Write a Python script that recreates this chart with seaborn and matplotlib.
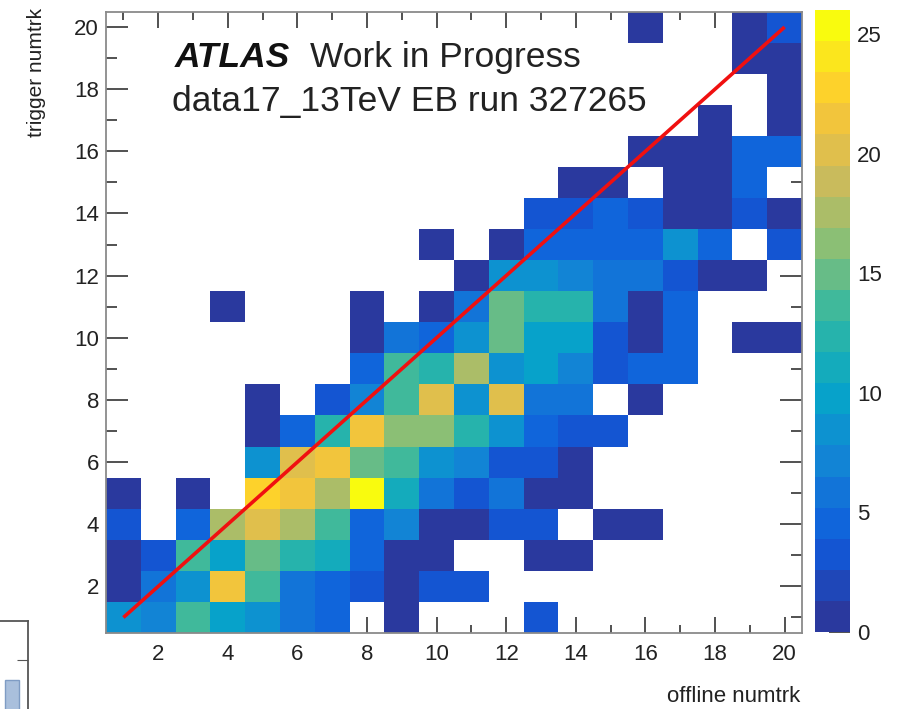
import numpy as np
import pandas as pd
import matplotlib
matplotlib.use("Agg")
import matplotlib.pyplot as plt
import seaborn as sns
from matplotlib.colors import LinearSegmentedColormap, ListedColormap

# ---------------- data ----------------
offline_numtrk = list(range(1, 21))   # x bins
trigger_numtrk = list(range(1, 21))   # y bins

# counts, one list per trigger-numtrk row (1 .. 20), columns offline numtrk 1 .. 20
trig_01 = [9, 7, 14, 10, 9, 6, 5, 0, 1, 0, 0, 0, 3, 0, 0, 0, 0, 0, 0, 0]
trig_02 = [1, 6, 9, 22, 13, 6, 5, 3, 1, 3, 3, 0, 0, 0, 0, 0, 0, 0, 0, 0]
trig_03 = [1, 3, 13, 10, 15, 12, 11, 5, 1, 1, 0, 0, 1, 1, 0, 0, 0, 0, 0, 0]
trig_04 = [3, 0, 4, 17, 20, 18, 14, 5, 7, 1, 1, 3, 3, 0, 1, 1, 0, 0, 0, 0]
trig_05 = [1, 0, 1, 0, 23, 21, 18, 26, 11, 6, 3, 6, 1, 1, 0, 0, 0, 0, 0, 0]
trig_06 = [0, 0, 0, 0, 9, 20, 21, 15, 13, 9, 7, 3, 3, 1, 0, 0, 0, 0, 0, 0]
trig_07 = [0, 0, 0, 0, 1, 4, 12, 22, 16, 16, 12, 9, 4, 3, 3, 0, 0, 0, 0, 0]
trig_08 = [0, 0, 0, 0, 1, 0, 3, 7, 14, 20, 9, 20, 6, 6, 0, 1, 0, 0, 0, 0]
trig_09 = [0, 0, 0, 0, 0, 0, 0, 5, 14, 12, 18, 8, 10, 7, 3, 5, 5, 0, 0, 0]
trig_10 = [0, 0, 0, 0, 0, 0, 0, 1, 6, 4, 8, 15, 10, 10, 3, 1, 5, 0, 1, 1]
trig_11 = [0, 0, 0, 1, 0, 0, 0, 1, 0, 1, 6, 15, 12, 12, 6, 1, 5, 0, 0, 0]
trig_12 = [0, 0, 0, 0, 0, 0, 0, 0, 0, 0, 1, 8, 8, 7, 6, 6, 3, 1, 1, 0]
trig_13 = [0, 0, 0, 0, 0, 0, 0, 0, 0, 1, 0, 1, 4, 4, 5, 5, 9, 4, 0, 3]
trig_14 = [0, 0, 0, 0, 0, 0, 0, 0, 0, 0, 0, 0, 3, 3, 5, 3, 1, 1, 3, 1]
trig_15 = [0, 0, 0, 0, 0, 0, 0, 0, 0, 0, 0, 0, 0, 1, 1, 0, 1, 1, 4, 0]
trig_16 = [0, 0, 0, 0, 0, 0, 0, 0, 0, 0, 0, 0, 0, 0, 0, 1, 1, 1, 4, 4]
trig_17 = [0, 0, 0, 0, 0, 0, 0, 0, 0, 0, 0, 0, 0, 0, 0, 0, 0, 1, 0, 1]
trig_18 = [0, 0, 0, 0, 0, 0, 0, 0, 0, 0, 0, 0, 0, 0, 0, 0, 0, 0, 0, 1]
trig_19 = [0, 0, 0, 0, 0, 0, 0, 0, 0, 0, 0, 0, 0, 0, 0, 0, 0, 0, 1, 1]
trig_20 = [0, 0, 0, 0, 0, 0, 0, 0, 0, 0, 0, 0, 0, 0, 0, 1, 0, 0, 1, 3]

major_ticks = [2, 4, 6, 8, 10, 12, 14, 16, 18, 20]
minor_ticks = [1, 3, 5, 7, 9, 11, 13, 15, 17, 19]
cbar_ticks = [0, 5, 10, 15, 20, 25]

diag_x = [1, 20]   # red reference line (trigger = offline)
diag_y = [1, 20]

inset_vals = [100]  # fragment of a neighbouring histogram at bottom-left

rows = [trig_01, trig_02, trig_03, trig_04, trig_05, trig_06, trig_07, trig_08, trig_09, trig_10,
        trig_11, trig_12, trig_13, trig_14, trig_15, trig_16, trig_17, trig_18, trig_19, trig_20]
df = pd.DataFrame(rows, index=trigger_numtrk, columns=offline_numtrk)

# ---------------- style ----------------
sns.set_style("white")
plt.rcParams["font.family"] = ["Liberation Sans", "DejaVu Sans"]

# ROOT kBird-like palette (as rendered in the reference), 20 contour bands
stops = [0.0, 0.125, 0.25, 0.375, 0.5, 0.625, 0.75, 0.875, 1.0]
red = [0.165, 0.0592, 0.0780, 0.0232, 0.1802, 0.5301, 0.8186, 0.9956, 0.9764]
green = [0.225, 0.3599, 0.5041, 0.6419, 0.7178, 0.7492, 0.7328, 0.7862, 0.9832]
blue = [0.620, 0.8684, 0.8385, 0.7914, 0.6425, 0.4662, 0.3499, 0.1968, 0.0539]
bird = LinearSegmentedColormap.from_list(
    "bird", [(s, (r, g, b)) for s, r, g, b in zip(stops, red, green, blue)])
bird20 = ListedColormap(bird(np.linspace(0, 1, 20)))

W, H = 903, 709
fig = plt.figure(figsize=(W / 100, H / 100), dpi=100)

def fx(px):
    return px / W

def fy(py):
    return 1 - py / H

ax = fig.add_axes([fx(106), fy(633), fx(802) - fx(106), fy(11.5) - fy(633)])
cax = fig.add_axes([fx(815), fy(632), fx(850) - fx(815), fy(10) - fy(632)])

zmax = df.values.max()
sns.heatmap(df, mask=(df == 0), cmap=bird20, vmin=0, vmax=zmax, ax=ax, cbar_ax=cax,
            xticklabels=False, yticklabels=False, linewidths=0)
ax.set_xlim(0, len(offline_numtrk))
ax.set_ylim(0, len(trigger_numtrk))

# cell for value v spans [v-1, v] in heatmap coords -> centre at v - 0.5
off = 0.5
ax.set_xticks([v - off for v in major_ticks])
ax.set_xticklabels([str(v) for v in major_ticks])
ax.set_xticks([v - off for v in minor_ticks], minor=True)
ax.set_yticks([v - off for v in major_ticks])
ax.set_yticklabels([str(v) for v in major_ticks], rotation=0)
ax.set_yticks([v - off for v in minor_ticks], minor=True)

tick_col = "#333333"
ax.tick_params(axis="x", which="major", direction="in", length=11.5, width=1.2, color=tick_col,
               top=True, bottom=True, labelsize=16, pad=8, labelcolor="#222222")
ax.tick_params(axis="x", which="minor", direction="in", length=5.8, width=1.2, color=tick_col,
               top=True, bottom=True)
ax.tick_params(axis="y", which="major", direction="in", length=16, width=1.2, color=tick_col,
               left=True, right=True, labelsize=16, pad=5, labelcolor="#222222")
ax.tick_params(axis="y", which="minor", direction="in", length=8, width=1.2, color=tick_col,
               left=True, right=True)
for sp in ax.spines.values():
    sp.set_visible(True)
    sp.set_color("#8a8a8a")
    sp.set_linewidth(1.3)
ax.set_xlabel("")
ax.set_ylabel("")

# reference diagonal
ax.plot(np.array(diag_x) - off, np.array(diag_y) - off, color="#f01010", lw=2.6,
        solid_capstyle="butt", zorder=5)

# colorbar
cbar = ax.collections[0].colorbar
cbar.set_ticks(cbar_ticks)
cbar.set_ticklabels([str(v) for v in cbar_ticks])
cbar.outline.set_visible(False)
cax.tick_params(axis="y", direction="in", length=15, width=1.2, color=tick_col,
                right=True, left=False, labelsize=16, pad=5, labelcolor="#222222")

# texts
fig.text(fx(175), fy(67), "ATLAS", fontsize=25.5, fontweight="bold", fontstyle="italic",
         ha="left", va="baseline", color="#111111")
fig.text(fx(310), fy(67), "Work in Progress", fontsize=25.5, ha="left", va="baseline",
         color="#222222")
fig.text(fx(172), fy(111), "data17_13TeV EB run 327265", fontsize=25.5, ha="left",
         va="baseline", color="#222222")
fig.text(fx(800), fy(702), "offline numtrk", fontsize=16, ha="right", va="baseline",
         color="#222222")
fig.text(fx(37), fy(8), "trigger numtrk", fontsize=15, rotation=90, ha="center", va="top",
         color="#222222")

# neighbouring panel fragment at bottom-left
axi = fig.add_axes([fx(-60), fy(780), fx(28) - fx(-60), fy(621) - fy(780)])
axi.set_xlim(0, 88)
axi.set_ylim(0, 159)
axi.bar([72], inset_vals, width=14, color="#a9bfdc", edgecolor="#7f9cc4", linewidth=1)
axi.set_xticks([])
axi.set_yticks([120])
axi.set_yticklabels([])
axi.tick_params(axis="y", direction="in", length=8, right=True, left=False, color="#555555")
for name, sp in axi.spines.items():
    sp.set_visible(name in ("top", "right"))
    sp.set_color("#555555")
    sp.set_linewidth(1.3)

fig.savefig("out.png", dpi=100)
